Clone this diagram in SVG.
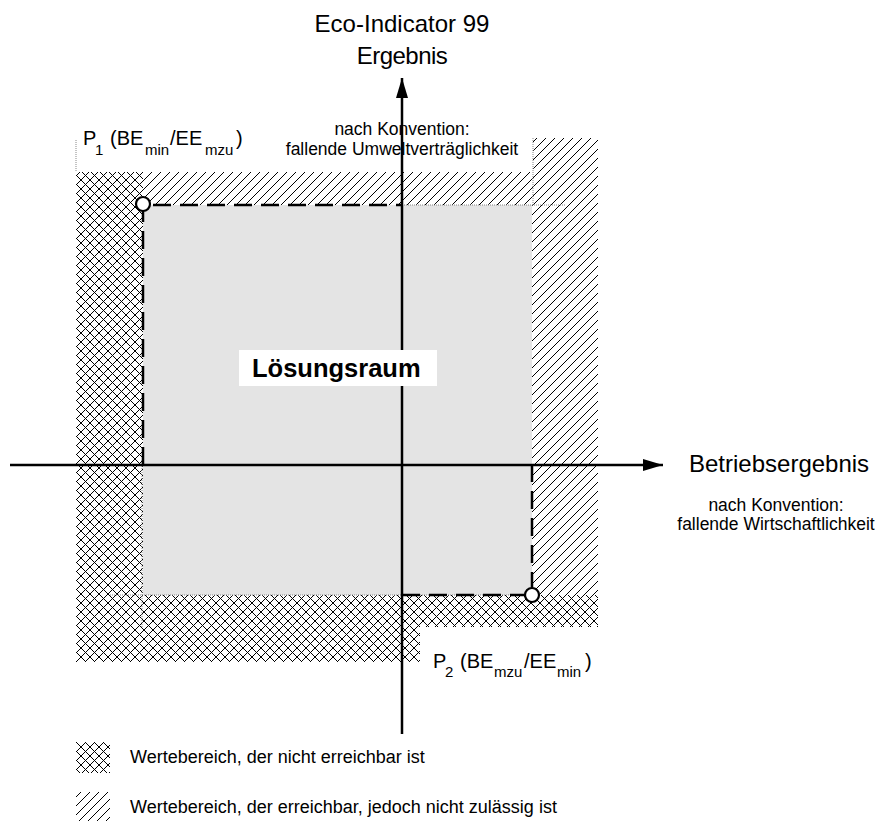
<svg xmlns="http://www.w3.org/2000/svg" width="880" height="821" viewBox="0 0 880 821">
<defs>
<pattern id="cross" patternUnits="userSpaceOnUse" width="9" height="9">
<path d="M-1,1 L1,-1 M0,9 L9,0 M8,10 L10,8 M-1,8 L1,10 M0,0 L9,9 M8,-1 L10,1" stroke="#000" stroke-width="1" fill="none" shape-rendering="crispEdges"/>
</pattern>
<pattern id="hatch" patternUnits="userSpaceOnUse" width="9" height="9">
<path d="M-2,2 L2,-2 M0,9 L9,0 M7,11 L11,7" stroke="#000" stroke-width="1" fill="none" shape-rendering="crispEdges"/>
</pattern>
<marker id="arr" viewBox="0 0 20 12" refX="20" refY="6" markerWidth="20" markerHeight="12" markerUnits="userSpaceOnUse" orient="auto">
<path d="M0,0 L20,6 L0,12 Z" fill="#000"/>
</marker>
<style>
.t{font-family:"Liberation Sans",Arial,sans-serif;fill:#000}
.big{font-size:24px}
.sm{font-size:17.5px}
.lg{font-size:18px}
.sub{font-size:15px}
.lbl{font-size:20px}
.dot{stroke:#888;stroke-width:1;stroke-dasharray:1 1;fill:none}
.dash{stroke:#000;stroke-width:2.5;stroke-dasharray:18 9;fill:none}
.axis{stroke:#000;stroke-width:2.5;fill:none}
.pt{fill:#fff;stroke:#000;stroke-width:2.2}
</style>
</defs>
<g id="regions">
<rect id="solution" x="143" y="205" width="389" height="390" fill="#e4e4e4"/>
<polygon id="unreachable" points="76,172 143,172 143,595 598,595 598,627 420,627 420,662 76,662" fill="url(#cross)"/>
<polygon id="notallowed" points="143,172 533,172 533,138 598,138 598,595 532,595 532,205 143,205" fill="url(#hatch)"/>
</g>
<g id="guides">
<line class="dot" x1="400" y1="205" x2="565" y2="205"/>
<line class="dot" x1="533" y1="138" x2="533" y2="205"/>
<line class="dot" x1="76" y1="140" x2="76" y2="172"/>
<line class="dot" x1="110" y1="595" x2="532" y2="595"/>
<line class="dot" x1="142" y1="460" x2="142" y2="627"/>
</g>
<g id="connectors">
<line class="axis" x1="10" y1="465" x2="663" y2="465" marker-end="url(#arr)"/>
<line class="axis" x1="402" y1="734" x2="402" y2="78" marker-end="url(#arr)"/>
<polyline class="dash" points="143,465 143,205 402,205"/>
<polyline class="dash" points="402,595 532,595 532,465"/>
</g>
<g id="P1">
<circle class="pt" cx="143" cy="204" r="7"/>
<text class="t lbl" y="145"><tspan x="83">P</tspan><tspan class="sub" x="95" y="155">1</tspan><tspan x="110" y="145">(BE</tspan><tspan class="sub" x="145" y="155">min</tspan><tspan x="170" y="145">/EE</tspan><tspan class="sub" x="205" y="155">mzu</tspan><tspan x="236" y="145">)</tspan></text>
</g>
<g id="P2">
<circle class="pt" cx="532" cy="595" r="7"/>
<text class="t lbl" y="668"><tspan x="433">P</tspan><tspan class="sub" x="445" y="677">2</tspan><tspan x="460" y="668">(BE</tspan><tspan class="sub" x="494" y="677">mzu</tspan><tspan x="524" y="668">/EE</tspan><tspan class="sub" x="557" y="677">min</tspan><tspan x="585" y="668">)</tspan></text>
</g>
<g id="label-solution">
<rect x="239" y="350" width="198" height="36" fill="#fff"/>
<text class="t" x="252" y="377" font-size="25.5" font-weight="bold">Lösungsraum</text>
</g>
<g id="label-y">
<text class="t big" x="402" y="32" text-anchor="middle">Eco-Indicator 99</text>
<text class="t big" x="402" y="64" text-anchor="middle" letter-spacing="-0.5">Ergebnis</text>
<text class="t sm" x="402" y="135" text-anchor="middle">nach Konvention:</text>
<text class="t sm" x="402" y="155" text-anchor="middle">fallende Umweltverträglichkeit</text>
</g>
<g id="label-x">
<text class="t big" x="689" y="472">Betriebsergebnis</text>
<text class="t sm" x="776" y="511" text-anchor="middle">nach Konvention:</text>
<text class="t sm" x="776" y="530" text-anchor="middle">fallende Wirtschaftlichkeit</text>
</g>
<g id="legend">
<rect x="76" y="742" width="34" height="31" fill="url(#cross)"/>
<text class="t lg" x="130" y="763">Wertebereich, der nicht erreichbar ist</text>
<rect x="76" y="792" width="34" height="29" fill="url(#hatch)"/>
<text class="t lg" x="130" y="813">Wertebereich, der erreichbar, jedoch nicht zulässig ist</text>
</g>
</svg>
